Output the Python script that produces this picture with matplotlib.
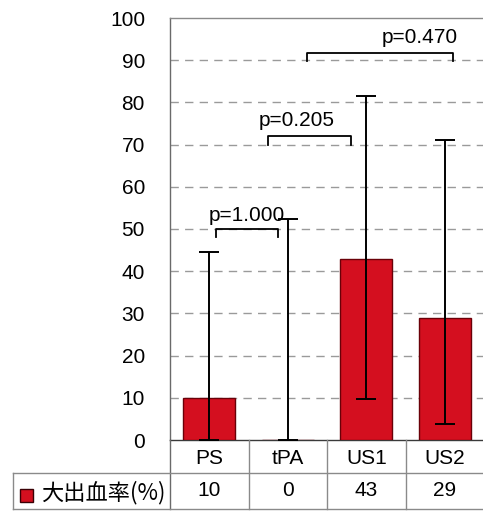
import matplotlib.pyplot as plt
import matplotlib.transforms as mtransforms
from matplotlib.patches import Rectangle
import numpy as np

plt.rcParams['font.family'] = ['Liberation Sans', 'Noto Sans CJK JP']

# 群ごとの大出血率(%)と誤差範囲
groups = ['PS', 'tPA', 'US1', 'US2']
rates = [10, 0, 43, 29]
ci_low = [0, 0, 9.6, 3.8]
ci_high = [44.6, 52.3, 81.6, 71.1]
row_label = '大出血率(%)'

# 群間比較 (左端, 右端, 高さ, 表示, 文字位置x, 文字位置y)
comparisons = [
    (0.08, 0.88, 50.0, 'p=1.000', 0.48, 53.3),
    (0.75, 1.80, 72.0, 'p=0.205', 1.12, 75.8),
    (1.24, 3.10, 91.7, 'p=0.470', 2.68, 95.3),
]

W, H = 483, 516
fig = plt.figure(figsize=(W / 100, H / 100), dpi=100)

def fx(px):
    return px / W

def fy(py):
    return 1 - py / H

left, top, right, bottom = 170, 18, 484, 440
ax = fig.add_axes([fx(left), fy(bottom), fx(right - left), (bottom - top) / H])

x = np.arange(len(groups))
red = '#d40f1f'
ax.bar(x, rates, width=0.66, color=red, edgecolor='#6a0008', linewidth=1.0, zorder=3)

yerr = [np.array(rates) - np.array(ci_low), np.array(ci_high) - np.array(rates)]
ax.errorbar(x, rates, yerr=yerr, fmt='none', ecolor='black', elinewidth=1.4,
            capsize=7, capthick=1.4, zorder=4)

ax.set_xlim(-0.5, 3.5)
ax.set_ylim(0, 100)
ax.set_yticks(range(0, 101, 10))
ax.set_xticks([])
ax.tick_params(axis='y', length=0, pad=18, labelsize=15)
for v in range(10, 100, 10):
    ax.axhline(v, color='#9a9a9a', linewidth=1.0, linestyle=(0, (6, 4.5)), zorder=1)

ax.spines['right'].set_visible(False)
ax.spines['top'].set_color('#8a8a8a')
ax.spines['left'].set_color('#6a6a6a')
ax.spines['bottom'].set_color('#3a3a3a')
for s in ax.spines.values():
    s.set_linewidth(1.0)

# p値のブラケット
for x0, x1, yb, label, tx, ty in comparisons:
    ax.plot([x0, x0, x1, x1], [yb - 2, yb, yb, yb - 2], color='black',
            linewidth=1.3, zorder=5, clip_on=False)
    ax.text(tx, ty, label, ha='center', va='center', fontsize=15, zorder=6)

# 下部のデータ表
blend = mtransforms.blended_transform_factory(ax.transData, fig.transFigure)
line_kw = dict(color='#8a8a8a', linewidth=1.0)
row1_bot, row2_bot = 473, 509
for b in [0.5, 1.5, 2.5]:
    fig.add_artist(plt.Line2D([b, b], [fy(bottom), fy(row2_bot)], transform=blend, **line_kw))
fig.add_artist(plt.Line2D([fx(left), fx(left)], [fy(bottom), fy(row2_bot)],
                          transform=fig.transFigure, color='#6a6a6a', linewidth=1.0))
fig.add_artist(plt.Line2D([fx(13), 1], [fy(row1_bot), fy(row1_bot)],
                          transform=fig.transFigure, **line_kw))
fig.add_artist(plt.Line2D([fx(13), 1], [fy(row2_bot), fy(row2_bot)],
                          transform=fig.transFigure, **line_kw))
fig.add_artist(plt.Line2D([fx(13), fx(13)], [fy(row1_bot), fy(row2_bot)],
                          transform=fig.transFigure, **line_kw))

for i, g in enumerate(groups):
    fig.text(i, fy(459), g, transform=blend, ha='center', va='center', fontsize=15)
    fig.text(i, fy(491), str(rates[i]), transform=blend,
             ha='center', va='center', fontsize=15)

fig.add_artist(Rectangle((fx(20), fy(502)), fx(13), 13 / H, transform=fig.transFigure,
                         facecolor=red, edgecolor='#3a0005', linewidth=1.0))
fig.text(fx(41), fy(493), row_label, ha='left', va='center', fontsize=16,
         family=['Noto Sans CJK JP'])

fig.savefig('out.png', dpi=100)
